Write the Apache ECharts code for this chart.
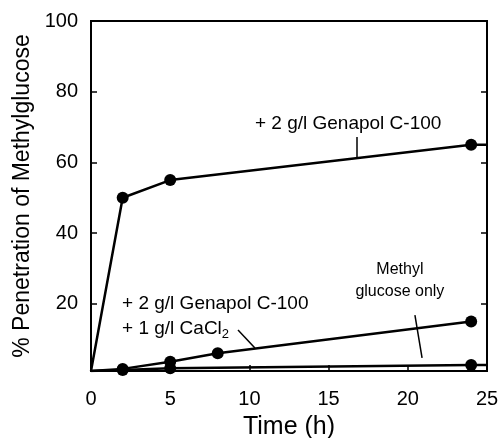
<!DOCTYPE html>
<html>
<head>
<meta charset="utf-8">
<script src="https://cdn.jsdelivr.net/npm/echarts@6/dist/echarts.min.js"></script>
<style>
  html, body { margin: 0; padding: 0; background: #fff; }
  #chart { width: 499px; height: 438px; }
</style>
</head>
<body>
<div id="chart"></div>
<script>
  // 时间 (h) / 渗透率 (%)
  var genapolData = [[0, 1], [2, 50], [5, 55], [24, 65], [25, 65]]
  var caclData = [[0, 1], [2, 1.6], [5, 3.6], [8, 6], [24, 15]]
  var methylData = [[0, 1], [2, 1.3], [5, 1.8], [24, 2.7], [25, 2.7]]
  var yTicks = [20, 40, 60, 80, 100]
  var yTicksRight = [20, 40, 60, 80]
  var noMarker = [0, 25] // 不画点的时间

  var font = 'Liberation Sans, Arial, Helvetica, sans-serif'

  function toPoints(list) {
    return list.map(function (d) {
      return noMarker.indexOf(d[0]) > -1 ? { value: d, symbol: 'none' } : { value: d }
    })
  }

  function lineSeries(name, data, extra) {
    var s = {
      name: name,
      type: 'line',
      data: toPoints(data),
      symbol: 'circle',
      symbolSize: 12,
      itemStyle: { color: '#000' },
      lineStyle: { color: '#000', width: 2.5 },
      animation: false,
      z: 3
    }
    return Object.assign(s, extra || {})
  }

  var leader = function (from, to) {
    return [{ coord: from }, { coord: to }]
  }

  var chart = echarts.init(document.getElementById('chart'))
  chart.setOption({
    backgroundColor: '#fff',
    textStyle: { fontFamily: font, color: '#000' },
    grid: {
      left: 91,
      right: 12,
      top: 21,
      bottom: 67,
      outerBoundsMode: 'none',
      show: true,
      borderColor: '#000',
      borderWidth: 2
    },
    xAxis: {
      type: 'value',
      min: 0,
      max: 25,
      interval: 5,
      name: 'Time (h)',
      nameLocation: 'middle',
      nameGap: 44,
      nameTextStyle: { fontSize: 25, color: '#000', fontFamily: font },
      axisLine: { lineStyle: { color: '#000', width: 2 } },
      axisTick: { inside: true, length: 6, lineStyle: { color: '#000', width: 1.5 } },
      axisLabel: { fontSize: 20, color: '#000', margin: 18, fontFamily: font },
      splitLine: { show: false }
    },
    yAxis: [
      {
        type: 'value',
        min: 1,
        max: 100,
        name: '% Penetration of Methylglucose',
        nameLocation: 'middle',
        nameGap: 57,
        nameTextStyle: { fontSize: 23, color: '#000', fontFamily: font },
        axisLine: { lineStyle: { color: '#000', width: 2 } },
        axisTick: { inside: true, length: 6, customValues: yTicks, lineStyle: { color: '#000', width: 1.5 } },
        axisLabel: { fontSize: 20, color: '#000', margin: 13, customValues: yTicks, fontFamily: font },
        splitLine: { show: false }
      },
      {
        type: 'value',
        position: 'right',
        min: 1,
        max: 100,
        axisLine: { show: true, lineStyle: { color: '#000', width: 2 } },
        axisTick: { inside: true, length: 6, customValues: yTicksRight, lineStyle: { color: '#000', width: 1.5 } },
        axisLabel: { show: false },
        splitLine: { show: false }
      }
    ],
    series: [
      lineSeries('+ 2 g/l Genapol C-100', genapolData, {
        markLine: {
          silent: true,
          symbol: 'none',
          label: { show: false },
          lineStyle: { color: '#000', width: 1.5, type: 'solid' },
          data: [leader([16.8, 67.2], [16.8, 61.5])]
        },
        markPoint: {
          silent: true,
          symbol: 'circle',
          symbolSize: 0,
          label: {
            show: true,
            position: 'inside',
            align: 'left',
            verticalAlign: 'middle',
            fontSize: 19,
            color: '#000',
            fontFamily: font,
            formatter: '+ 2 g/l Genapol C-100'
          },
          data: [{ coord: [10.35, 71.0] }]
        }
      }),
      lineSeries('+ 2 g/l Genapol C-100 + 1 g/l CaCl2', caclData, {
        markLine: {
          silent: true,
          symbol: 'none',
          label: { show: false },
          lineStyle: { color: '#000', width: 1.5, type: 'solid' },
          data: [leader([9.28, 12.6], [10.35, 7.5])]
        },
        markPoint: {
          silent: true,
          symbol: 'circle',
          symbolSize: 0,
          label: {
            show: true,
            position: 'inside',
            align: 'left',
            verticalAlign: 'middle',
            color: '#000',
            fontFamily: font,
            formatter: '{a|+ 2 g/l Genapol C-100}\n{a|+ 1 g/l CaCl}{s|2}',
            rich: {
              a: { fontSize: 19, lineHeight: 25, color: '#000', fontFamily: font },
              s: { fontSize: 13, lineHeight: 25, color: '#000', fontFamily: font, padding: [12, 0, 0, 0] }
            }
          },
          data: [{ coord: [1.96, 16.5] }]
        }
      }),
      lineSeries('Methyl glucose only', methylData, {
        markLine: {
          silent: true,
          symbol: 'none',
          label: { show: false },
          lineStyle: { color: '#000', width: 1.5, type: 'solid' },
          data: [leader([20.45, 16.8], [20.9, 4.7])]
        },
        markPoint: {
          silent: true,
          symbol: 'circle',
          symbolSize: 0,
          label: {
            show: true,
            position: 'inside',
            align: 'center',
            verticalAlign: 'middle',
            fontSize: 16,
            lineHeight: 22,
            color: '#000',
            fontFamily: font,
            formatter: 'Methyl\nglucose only'
          },
          data: [{ coord: [19.5, 26.5] }]
        }
      })
    ]
  })
</script>
</body>
</html>
